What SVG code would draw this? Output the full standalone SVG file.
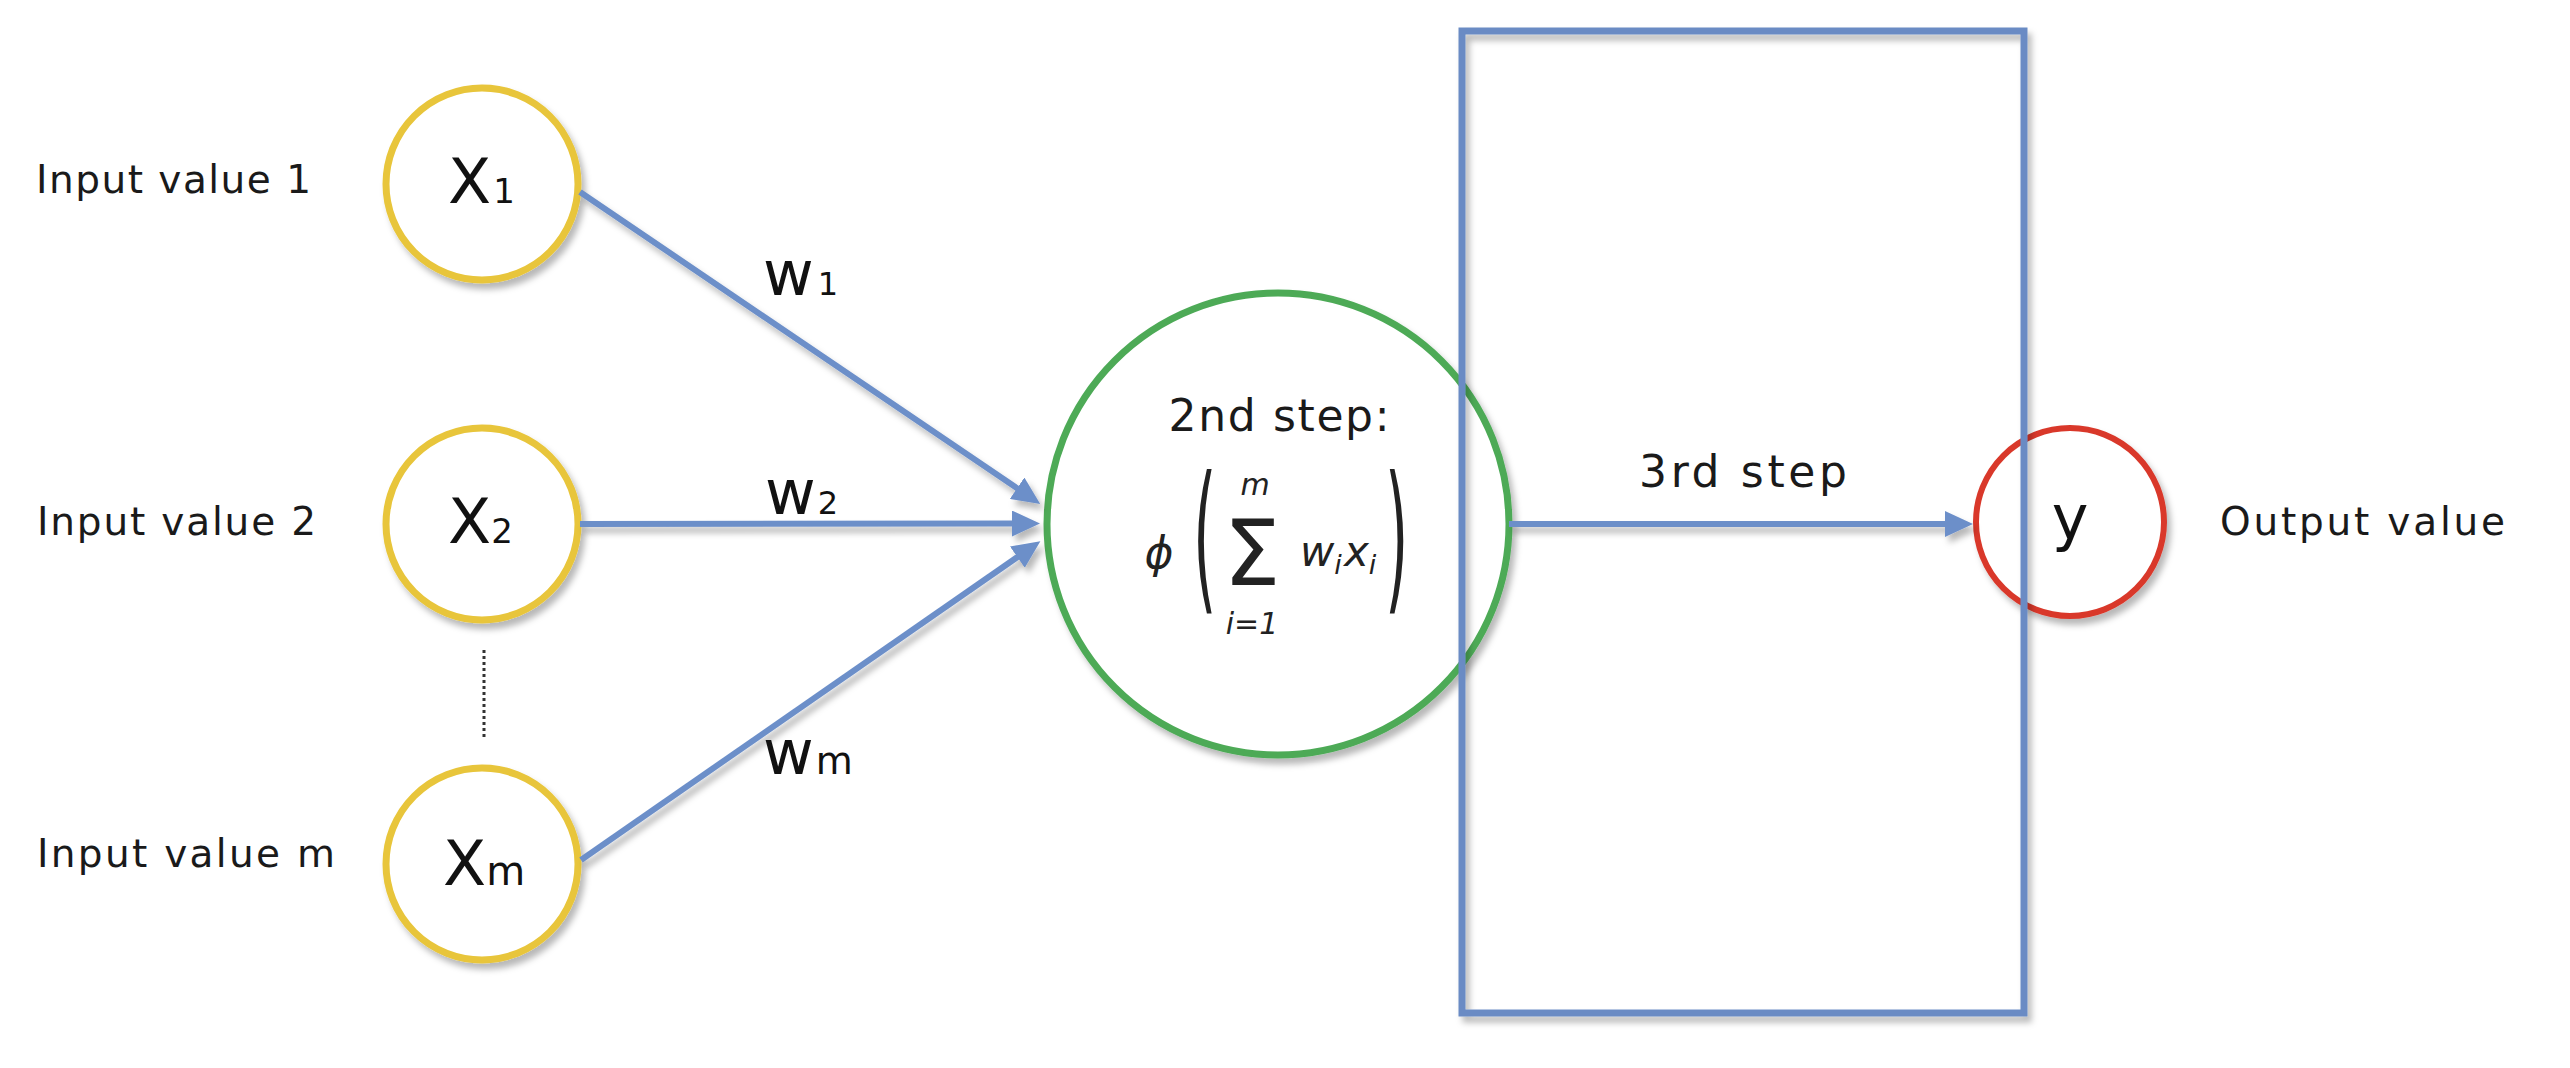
<svg xmlns="http://www.w3.org/2000/svg" width="2570" height="1068" viewBox="0 0 2570 1068">
  <style>
    .lbl { font-family: "DejaVu Sans", "Open Sans", sans-serif; fill: #1a1a1a; }
    .node-in { fill: #ffffff; stroke: #E8C53A; stroke-width: 7; }
    .sym { font-family: "DejaVu Sans", "Open Sans", sans-serif; fill: #111111; }
    .math { font-family: "DejaVu Sans", "Liberation Sans", sans-serif; fill: #222222; }
    .conn { stroke: #6C8FC9; stroke-width: 6; fill: none; }
  </style>
  <defs>
    <filter id="shadow" filterUnits="userSpaceOnUse" x="0" y="0" width="2570" height="1068">
      <feDropShadow dx="4" dy="6" stdDeviation="3" flood-color="#000000" flood-opacity="0.28"/>
    </filter>
    <marker id="arrow" markerUnits="userSpaceOnUse" markerWidth="28" markerHeight="26" refX="16" refY="13" orient="auto">
      <path d="M0,0 L28,13 L0,26 z" fill="#6C8FC9"/>
    </marker>
  </defs>
  <rect width="2570" height="1068" fill="#ffffff"/>

  <!-- input labels -->
  <g id="labels-input">
    <text class="lbl" x="36" y="193" font-size="39" textLength="275" lengthAdjust="spacing">Input value 1</text>
    <text class="lbl" x="37" y="535" font-size="39" textLength="279" lengthAdjust="spacing">Input value 2</text>
    <text class="lbl" x="37" y="867" font-size="39" textLength="298" lengthAdjust="spacing">Input value m</text>
  </g>

  <!-- input nodes -->
  <g id="node-x1">
    <circle class="node-in" cx="482" cy="184" r="96" filter="url(#shadow)"/>
    <text class="sym" x="448" y="203" font-size="63">X<tspan font-size="34" dx="2">1</tspan></text>
  </g>
  <g id="node-x2">
    <circle class="node-in" cx="482" cy="524" r="96" filter="url(#shadow)"/>
    <text class="sym" x="448" y="543" font-size="63">X<tspan font-size="34" dx="0">2</tspan></text>
  </g>
  <g id="node-xm">
    <circle class="node-in" cx="482" cy="864" r="96" filter="url(#shadow)"/>
    <text class="sym" x="443" y="885" font-size="63">X<tspan font-size="40" dx="0">m</tspan></text>
  </g>
  <line id="ellipsis" x1="484" y1="650" x2="484" y2="738" stroke="#333333" stroke-width="3" stroke-dasharray="3 3"/>

  <!-- summation node -->
  <g id="node-sum">
    <circle cx="1278" cy="524" r="231" fill="#ffffff" stroke="#4DAA57" stroke-width="7" filter="url(#shadow)"/>
    <text class="lbl" x="1279" y="431" font-size="44" text-anchor="middle" textLength="221" lengthAdjust="spacing">2nd step:</text>
    <text class="math" x="1159" y="568" font-size="44" font-style="italic" text-anchor="middle" fill="#555">ϕ</text>
    <text class="math" transform="translate(1193,592) scale(1,2.7)" font-size="60" font-family="Liberation Sans, sans-serif">(</text>
    <text class="math" x="1252" y="585" font-size="90" text-anchor="middle" font-family="Liberation Sans, sans-serif">Σ</text>
    <text class="math" x="1255" y="495" font-size="30" font-style="italic" text-anchor="middle">m</text>
    <text class="math" x="1252" y="634" font-size="30" font-style="italic" text-anchor="middle">i=1</text>
    <text class="math" x="1300" y="566" font-size="42" font-style="italic">w<tspan font-size="27" dy="8">i</tspan><tspan dy="-8" dx="2">x</tspan><tspan font-size="27" dy="8">i</tspan></text>
    <text class="math" transform="translate(1385,592) scale(1,2.7)" font-size="60" font-family="Liberation Sans, sans-serif">)</text>
  </g>

  <!-- output node -->
  <g id="node-y">
    <circle cx="2070" cy="522" r="94" fill="#ffffff" stroke="#D9392B" stroke-width="6" filter="url(#shadow)"/>
    <text class="sym" x="2070" y="539" font-size="62" text-anchor="middle">y</text>
  </g>
  <text id="label-output" class="lbl" x="2220" y="535" font-size="39" textLength="285" lengthAdjust="spacing">Output value</text>

  <!-- connectors -->
  <g id="connectors" filter="url(#shadow)">
    <line class="conn" x1="580" y1="192" x2="1030.3" y2="497.2" marker-end="url(#arrow)"/>
    <line class="conn" x1="580" y1="524" x2="1028" y2="523.5" marker-end="url(#arrow)"/>
    <line class="conn" x1="581" y1="860" x2="1030.5" y2="548" marker-end="url(#arrow)"/>
    <line class="conn" x1="1509" y1="524" x2="1961" y2="524" marker-end="url(#arrow)"/>
  </g>

  <!-- weight labels -->
  <g id="labels-weights">
    <text class="sym" x="763" y="295" font-size="62">w<tspan font-size="32" dx="4">1</tspan></text>
    <text class="sym" x="765" y="514" font-size="62">w<tspan font-size="32" dx="2">2</tspan></text>
    <text class="sym" x="763" y="774" font-size="62">w<tspan font-size="38" dx="2">m</tspan></text>
  </g>

  <!-- step 3 box -->
  <g id="box-step3">
    <rect x="1462" y="31" width="562" height="982" fill="none" stroke="#6A8BC4" stroke-width="7" filter="url(#shadow)"/>
    <text class="lbl" x="1743" y="487" font-size="44" text-anchor="middle" textLength="208" lengthAdjust="spacing">3rd step</text>
  </g>
</svg>
